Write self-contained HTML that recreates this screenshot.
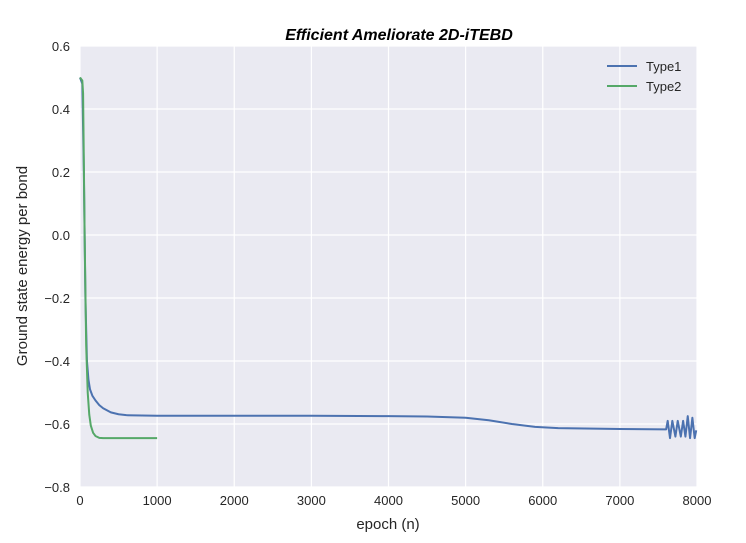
<!DOCTYPE html>
<html><head><meta charset="utf-8"><style>
body{margin:0;background:#fff;font-family:"Liberation Sans",sans-serif}
</style></head><body>
<svg id="chart" width="746" height="538" xmlns="http://www.w3.org/2000/svg" font-family="Liberation Sans, sans-serif">
</svg>
<script>
const xTicks=[0,1000,2000,3000,4000,5000,6000,7000,8000];
const yTicks=[0.6,0.4,0.2,0.0,-0.2,-0.4,-0.6,-0.8];
const type1X=[0,30,50,70,90,110,130,160,200,250,300,400,500,600,1000,3000,4000,4500,5000,5300,5600,5900,6200,7000,7580,7600,7620,7650,7680,7720,7750,7790,7820,7850,7880,7910,7940,7970,7990];
const type1Y=[0.5,0.48,0.2,-0.2,-0.4,-0.46,-0.49,-0.51,-0.525,-0.54,-0.55,-0.563,-0.569,-0.572,-0.574,-0.574,-0.575,-0.576,-0.58,-0.588,-0.6,-0.609,-0.613,-0.616,-0.617,-0.617,-0.59,-0.645,-0.59,-0.64,-0.59,-0.64,-0.59,-0.64,-0.575,-0.645,-0.58,-0.645,-0.62];
const type2X=[0,30,40,60,80,100,120,140,170,200,250,300,1000];
const type2Y=[0.5,0.49,0.45,0.0,-0.35,-0.5,-0.57,-0.605,-0.628,-0.638,-0.644,-0.645,-0.645];
const L=80,R=697,T=46,B=487;
const sx=v=>L+(v-0)/8000*(R-L);
const sy=v=>T+(0.6-v)/1.4*(B-T);
const svg=document.getElementById('chart');
const NS='http://www.w3.org/2000/svg';
function mk(tag,attrs,parent){const e=document.createElementNS(NS,tag);for(const k in attrs)e.setAttribute(k,attrs[k]);(parent||svg).appendChild(e);return e;}
const bg=mk('rect',{x:L,y:T,width:R-L,height:B-T,fill:'#eaeaf2'});


xTicks.forEach(t=>{
  const g=mk('line',{x1:sx(t),x2:sx(t),y1:T,y2:B,stroke:'#fff','stroke-width':1.2});
  
  
  const tx=mk('text',{x:sx(t),y:B+18,'font-size':13,fill:'#262626','text-anchor':'middle'});
  tx.textContent=String(t);
  
  
});
yTicks.forEach(t=>{
  const g=mk('line',{x1:L,x2:R,y1:sy(t),y2:sy(t),stroke:'#fff','stroke-width':1.2});
  
  
  const tx=mk('text',{x:L-10,y:sy(t)+5,'font-size':13,fill:'#262626','text-anchor':'end'});
  tx.textContent=(t<0?'\u2212':'')+Math.abs(t).toFixed(1);
  
  
});
function line(xs,ys,color,name){
  const p=mk('polyline',{points:xs.map((x,i)=>sx(x)+','+sy(ys[i])).join(' '),fill:'none',stroke:color,'stroke-width':2,'stroke-linejoin':'round'});
  
  
}
line(type1X,type1Y,'#4c72b0','type1-line');
line(type2X,type2Y,'#55a868','type2-line');
const title=mk('text',{x:399,y:40,'font-size':16,'font-weight':'bold','font-style':'italic','text-anchor':'middle',fill:'#000'});
title.textContent='Efficient Ameliorate 2D-iTEBD';


const xl=mk('text',{x:388,y:529,'font-size':15,'text-anchor':'middle',fill:'#262626'});
xl.textContent='epoch (n)';


const yl=mk('text',{x:0,y:0,'font-size':15,'text-anchor':'middle',fill:'#262626',transform:'translate(27,266) rotate(-90)'});
yl.textContent='Ground state energy per bond';


[['Type1','#4c72b0',66],['Type2','#55a868',86]].forEach(([n,c,y])=>{
  const g=mk('g',{});
  
  
  mk('line',{x1:607,x2:637,y1:y,y2:y,stroke:c,'stroke-width':2},g);
  const t=mk('text',{x:646,y:y+5,'font-size':13,fill:'#262626'},g);
  t.textContent=n;
});
</script>
</body></html>
